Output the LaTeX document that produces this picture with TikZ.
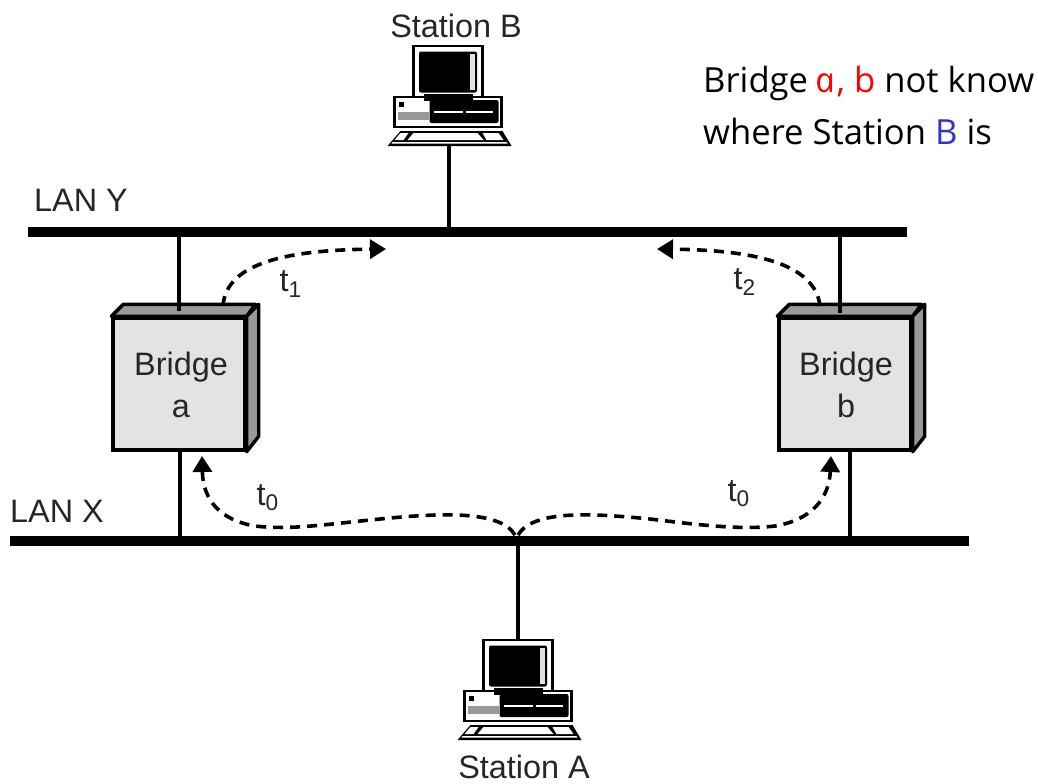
\documentclass[tikz,border=0pt]{standalone}
\usepackage{fontspec}
\setmainfont{Liberation Sans}
\newfontfamily\notefont{Open Sans}
\newfontfamily\noteitfont[FakeSlant=-0.2]{Open Sans Italic}
\usetikzlibrary{%
  arrows.meta,%
  positioning%
}
\definecolor{boxfront}{HTML}{E3E3E3}
\definecolor{boxside}{HTML}{999999}
\definecolor{noteblue}{HTML}{3333CC}
\begin{document}
\begin{tikzpicture}
  [
  x=0.5pt, y=-0.5pt, line width=1.7pt, draw=black,
  font=\fontsize{16.2pt}{19.5pt}\selectfont,
  lan/.style={line width=5.2pt},
  flow/.style={line width=1.8pt, dash pattern=on 5pt off 3.5pt, -{Triangle[length=8pt,width=9.5pt]}},
  lanlabel/.style={text=black!85, inner sep=0pt},
  bridgenode/.style={rectangle, draw=black, fill=boxfront, inner sep=0pt, minimum size=66pt},
  bridgetext/.style={text=black!85, align=center, inner sep=0pt},
  boxface/.style={fill=boxside, draw=black, line join=round},
  station/.pic={
    % monitor
    \draw[line width=1.1pt, fill=white] (0,0) rectangle (69,51);
    \fill[rounded corners=1pt] (5.5,5.5) rectangle (63.5,46.5);
    \fill[boxfront] (56.5,8) rectangle (61.5,44);
    % base
    \draw[line width=1.1pt, fill=white] (-19,51) rectangle (88,81);
    \fill (10,48) rectangle (59,54.5);
    \fill[rounded corners=1pt] (16,54) rectangle (85,77);
    \fill (-15,56) rectangle (-10,61);
    \fill[boxside] (-16,66) rectangle (15,74);
    \draw[white, line width=0.7pt] (20,66) -- (49,66) (52,66) -- (79,66);
    % keyboard
    \fill (-13,85) -- (89,85) -- (98,100) -- (-26,100) -- cycle;
    \fill[white] (-13,87) -- (-5,87) -- (-10,94) -- (-19,94) -- cycle;
    \fill[white] (0,87) -- (64,87) -- (70,94) -- (-6,94) -- cycle;
    \fill[white] (69,87) -- (85,87) -- (90,94) -- (73,94) -- cycle;
    \fill[white] (-21,96) -- (93,96) -- (94,97.5) -- (-22,97.5) -- cycle;
  },
  ]

  \useasboundingbox (0,0) rectangle (1038,783);

  \node[lanlabel] (lanYlabel) at (81,200) {LAN Y};
  \node[lanlabel] (lanXlabel) at (57,511) {LAN X};
  \node[lanlabel] (stationBlabel) at (456,26) {Station B};
  \node[lanlabel] (stationAlabel) at (524,767) {Station A};

  \coordinate (lanYw) at (28,232);
  \coordinate (lanYe) at (907,232);
  \coordinate (lanXw) at (10,541);
  \coordinate (lanXe) at (969,541);
  \coordinate (stationBport) at (449,146);
  \coordinate (lanYb) at (449,232);
  \coordinate (stationAport) at (518,641);
  \coordinate (lanXa) at (518,541);
  \coordinate (bridgeAup) at (179,232);
  \coordinate (bridgeAdown) at (180,541);
  \coordinate (bridgeBupY) at (840,232);
  \coordinate (bridgeBup) at (840,313);
  \coordinate (bridgeBdownX) at (850,541);
  \coordinate (bridgeBdown) at (850,450);

  % the two LANs
  \draw[lan] (lanYw) -- (lanYe);
  \draw[lan] (lanXw) -- (lanXe);

  \draw (stationBport) -- (lanYb);
  \draw (stationAport) -- (lanXa);
  \pic at (413.5,46) {station};
  \pic at (483.5,640) {station};

  % bridge a
  \node[bridgenode] (bridgeA) at (179,384) {};
  \draw[boxface] (bridgeA.north west) -- ++(12,-12) -- ++(132,0) -- (bridgeA.north east) -- cycle;
  \draw[boxface] (bridgeA.north east) -- ++(12,-12) -- ++(0,132) -- (bridgeA.south east) -- cycle;
  \node[bridgetext] (bridgeAtext) at (181,385) {Bridge\\[1.5pt]a};
  \draw (bridgeAup) -- ([yshift=2.5pt]bridgeA.north);
  \draw (bridgeA.south -| bridgeAdown) -- (bridgeAdown);

  % bridge b
  \node[bridgenode] (bridgeB) at (845,384) {};
  \draw[boxface] (bridgeB.north west) -- ++(12,-12) -- ++(132,0) -- (bridgeB.north east) -- cycle;
  \draw[boxface] (bridgeB.north east) -- ++(12,-12) -- ++(0,132) -- (bridgeB.south east) -- cycle;
  \node[bridgetext] (bridgeBtext) at (846,385) {Bridge\\[1.5pt]b};
  \draw (bridgeBupY) -- (bridgeBup);
  \draw (bridgeBdown) -- (bridgeBdownX);

  \coordinate (fromA) at (223,306);
  \coordinate (toYleft) at (386,249);
  \coordinate (fromB) at (820,306);
  \coordinate (toYright) at (657,249);
  \coordinate (forkL) at (515,535);
  \coordinate (forkR) at (518,535);
  \coordinate (toA) at (202,456);
  \coordinate (toB) at (831,456);

  \draw[flow] (fromA) .. controls (226,262) and (290,250) .. (toYleft);
  \draw[flow] (fromB) .. controls (815,262) and (750,250) .. (toYright);
  \draw[flow] (forkL) .. controls (500,510) and (440,513) .. (380,519)
    .. controls (320,525) and (290,530) .. (255,526) .. controls (220,520) and (203,500) .. (toA);
  \draw[flow] (forkR) .. controls (533,510) and (590,513) .. (650,519)
    .. controls (700,525) and (740,530) .. (775,526) .. controls (810,520) and (829,500) .. (toB);

  \node[lanlabel] (tOne) at (291,284) {t\textsubscript{1}};
  \node[lanlabel] (tTwo) at (745,282) {t\textsubscript{2}};
  \node[lanlabel] (tZeroA) at (268,498) {t\textsubscript{0}};
  \node[lanlabel] (tZeroB) at (739,494) {t\textsubscript{0}};

  \node[anchor=base west, inner sep=0pt, align=left, font=\notefont\fontsize{17.3pt}{26pt}\selectfont] (note) at (701.5,144)
    {Bridge {\color{red}{\noteitfont a}, b} not know\\where Station {\color{noteblue}B} is};

\end{tikzpicture}
\end{document}
